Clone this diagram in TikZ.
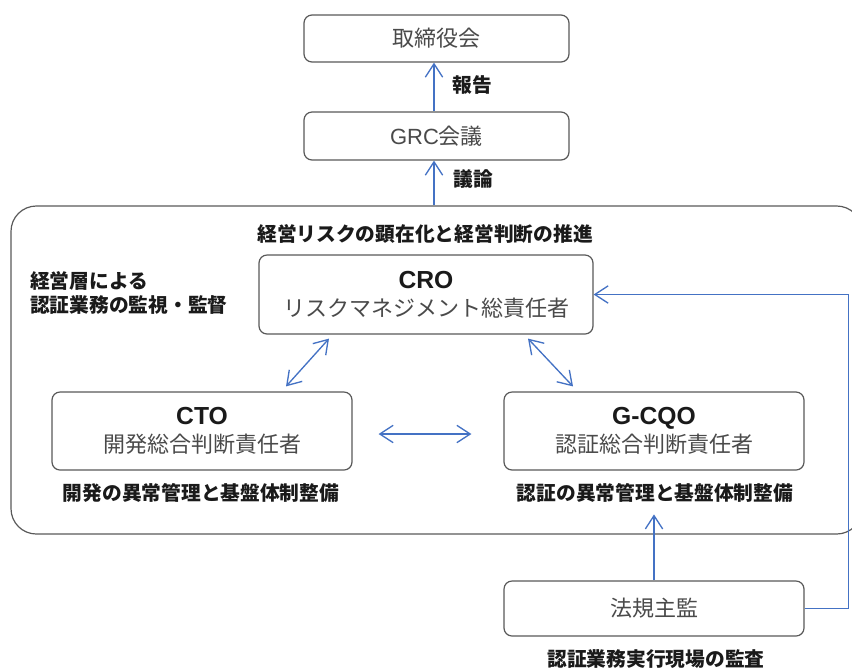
\documentclass[tikz,border=0pt]{standalone}
\usepackage{fontspec}
\setmainfont{Noto Sans CJK JP}
\newfontfamily\lat{Liberation Sans}
\usetikzlibrary{arrows.meta}
\definecolor{edge}{HTML}{595959}
\definecolor{txt}{HTML}{4A4A4A}
\definecolor{arr}{HTML}{4472C4}
\definecolor{lbltxt}{HTML}{1A1A1A}
\begin{document}
\begin{tikzpicture}[x=0.75pt,y=-0.75pt,
  box/.style={draw=edge, line width=0.9pt, rounded corners=6pt, fill=white, text=txt, align=center, inner sep=0pt, font=\fontsize{16.5}{21}\selectfont},
  frame/.style={draw=edge, line width=0.9pt, rounded corners=19pt, inner sep=0pt},
  lbl/.style={text=lbltxt, font=\fontsize{14.8}{18}\selectfont\bfseries, inner sep=0pt, align=left},
  arrow/.style={draw=arr, line width=1pt, -{Straight Barb[length=10pt,width=13pt]}},
  darrow/.style={draw=arr, line width=1pt, {Straight Barb[length=10pt,width=13pt]}-{Straight Barb[length=10pt,width=13pt]}},
]
\newcommand{\headtxt}[1]{{\fontsize{18.5}{21}\selectfont\lat\bfseries\color{lbltxt}#1}}
\useasboundingbox (0,0) rectangle (852,669);
\clip (0,0) rectangle (852,669);

\node[frame, minimum width=851*0.75pt, minimum height=328*0.75pt] (frame) at (436.5,370) {};

\node[box, minimum width=265*0.75pt, minimum height=47*0.75pt] (board) at (436.5,38.5) {取締役会};
\node[box, minimum width=265*0.75pt, minimum height=48*0.75pt] (grc) at (436.5,136) {{\lat GRC}会議};
\node[box, minimum width=334*0.75pt, minimum height=79*0.75pt] (cro) at (426,294.5) {\headtxt{CRO}\\リスクマネジメント総責任者};
\node[box, minimum width=300*0.75pt, minimum height=78*0.75pt] (cto) at (202,431) {\headtxt{CTO}\\開発総合判断責任者};
\node[box, minimum width=300*0.75pt, minimum height=78*0.75pt] (gcqo) at (654,431) {\headtxt{G-CQO}\\認証総合判断責任者};
\node[box, minimum width=300*0.75pt, minimum height=55*0.75pt] (audit) at (654,608.5) {法規主監};

\node[lbl] (title) at (425,234) {経営リスクの顕在化と経営判断の推進};
\node[lbl, anchor=west] (mgmt) at (30,293) {経営層による\\認証業務の監視・監督};
\node[lbl, anchor=west] (report) at (452,85) {報告};
\node[lbl, anchor=west] (discuss) at (453,179) {議論};
\node[lbl] (ctolbl) at (201,493) {開発の異常管理と基盤体制整備};
\node[lbl] (gcqolbl) at (655,493) {認証の異常管理と基盤体制整備};
\node[lbl] (auditlbl) at (656,659) {認証業務実行現場の監査};

\draw[arrow] (grc.north -| 434,0) -- (board.south -| 434,0);
\draw[arrow] (frame.north -| 434,0) -- (grc.south -| 434,0);
\draw[darrow] ([shift={(-97,4)}]cro.south) -- ([shift={(84,-5)}]cto.north);
\draw[darrow] ([shift={(102,4)}]cro.south) -- ([shift={(-81,-5)}]gcqo.north);
\draw[darrow] ([shift={(26,3)}]cto.east) -- ([shift={(-32,3)}]gcqo.west);
\draw[arrow] (audit.north) -- ([shift={(0,-66)}]audit.north);
\draw[arrow] (audit.east) -- ++(44,0) |- (cro.east);
\end{tikzpicture}
\end{document}
